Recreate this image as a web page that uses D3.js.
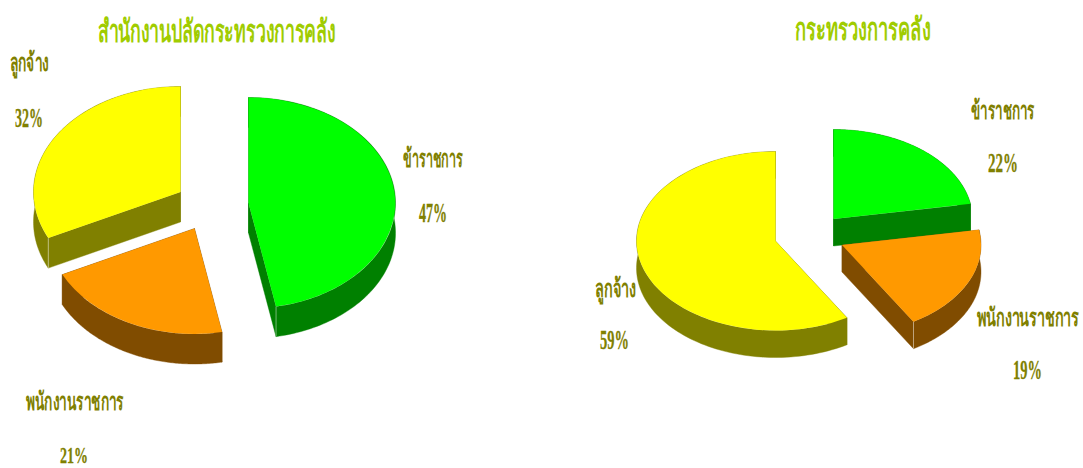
<!DOCTYPE html>
<html><head><meta charset="utf-8">
<style>html,body{margin:0;padding:0;background:#fff;overflow:hidden}svg{display:block}text{font-family:"Liberation Serif","Noto Sans","DejaVu Serif",serif;font-weight:bold}</style>
<script src="https://cdn.jsdelivr.net/npm/d3@7"></script></head><body>
<script>
const categories = ["ข้าราชการ", "พนักงานราชการ", "ลูกจ้าง"];
const officeTitle = "สำนักงานปลัดกระทรวงการคลัง";
const officeValues = [47.0, 20.8, 32.2];
const ministryTitle = "กระทรวงการคลัง";
const ministryValues = [22.3, 19.1, 58.6];
const topColors = ["#00ff00", "#ff9900", "#ffff00"];
const wallColors = ["#008000", "#804c00", "#808000"];

const W = 1083, H = 468;
const svg = d3.select("body").append("svg").attr("width", W).attr("height", H);
const pie = d3.pie().sort(null).value(d => d);

function fitText(g, str, x, y, width, size, fill, heavy) {
  const t = g.append("text").attr("font-size", size).attr("fill", fill).text(str);
  const natural = t.node().getComputedTextLength();
  t.attr("transform", `translate(${x},${y}) scale(${width / natural},1)`);
  if (heavy) t.attr("stroke", fill).attr("stroke-width", heavy);
}

function drawPie(cfg) {
  const arcs = pie(cfg.values);
  const g = svg.append("g");
  const pt = (c, a) => [c[0] + cfg.rx * Math.sin(a), c[1] - cfg.ry * Math.cos(a)];
  const line = d3.line();
  const arcGen = d3.arc().innerRadius(0).outerRadius(1);
  cfg.order.forEach(i => {
    const d = arcs[i], c = cfg.centers[i];
    const down = p => [p[0], p[1] + cfg.depth];
    const steps = d3.range(0, 121).map(k => d.startAngle + (d.endAngle - d.startAngle) * k / 120);
    const rim = steps.map(a => pt(c, a));
    const band = rim.concat(rim.map(down).reverse());
    const faces = [
      [c, pt(c, d.startAngle), down(pt(c, d.startAngle)), down(c)],
      [c, pt(c, d.endAngle), down(pt(c, d.endAngle)), down(c)]
    ];
    faces.concat([band]).forEach(poly => {
      g.append("path").attr("d", line(poly) + "Z")
        .attr("fill", wallColors[i]).attr("stroke", wallColors[i]).attr("stroke-width", 0.4);
    });
    cfg.highlights.filter(h => h[0] === i).forEach(h => {
      const p = pt(c, h[1] === "start" ? d.startAngle : d.endAngle);
      g.append("path").attr("d", line([p, down(p)]))
        .attr("stroke", "#ffffff").attr("stroke-opacity", 0.55).attr("stroke-width", 0.8).attr("fill", "none");
    });
    g.append("path")
      .attr("transform", `translate(${c[0]},${c[1]}) scale(${cfg.rx},${cfg.ry})`)
      .attr("d", arcGen({startAngle: d.startAngle, endAngle: d.endAngle}))
      .attr("fill", topColors[i]);
  });
  fitText(g, cfg.title, cfg.titlePos[0], cfg.titlePos[1], cfg.titlePos[2], 31, "#a0cc00");
  cfg.labelPos.forEach((p, i) => {
    fitText(g, categories[i], p[0], p[1], p[2], 25, "#808000");
    fitText(g, Math.round(cfg.values[i]) + "%", p[3], p[4], p[5], p[6] || 27, "#808000", 0.3);
  });
}

drawPie({
  title: officeTitle, values: officeValues, rx: 147, ry: 105.5, depth: 30,
  centers: [[248.5, 203], [194.5, 228.5], [180.5, 192]], order: [2, 0, 1],
  highlights: [[0, "end"], [2, "start"]],
  titlePos: [98, 42, 239],
  labelPos: [[403, 167, 59, 419, 222, 28], [26, 410, 97, 60, 462.5, 28, 24], [10, 71, 39, 15, 127, 28]]
});
drawPie({
  title: ministryTitle, values: ministryValues, rx: 139, ry: 89.5, depth: 27,
  centers: [[833.5, 219], [842, 245], [775.5, 241]], order: [2, 0, 1],
  highlights: [[1, "end"]],
  titlePos: [795, 40, 136],
  labelPos: [[971, 119, 63, 988, 172, 30], [977, 326, 102, 1013, 379, 29], [595, 297, 41, 600, 349, 29]]
});
</script></body></html>
